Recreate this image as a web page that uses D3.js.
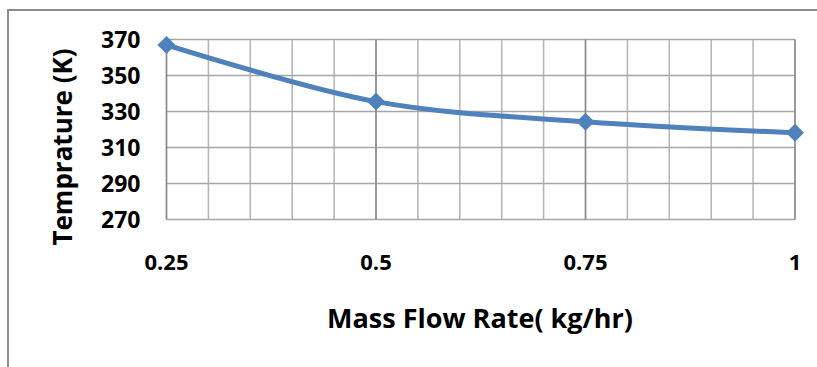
<!DOCTYPE html>
<html lang="en">
<head>
	<meta charset="UTF-8">
	<title>temprature chart</title>
	<style>
		* {
			margin: 0;
			padding: 0;
		}
		body {
			background: #fff;
		}
		svg {
			display: block;
			font-family: "Open Sans", sans-serif;
			font-weight: bold;
		}
	</style>
</head>
<body>
	<script src="https://cdn.jsdelivr.net/npm/d3@7"></script>
	<script>
		// data
		var flowRates = [0.25, 0.5, 0.75, 1];
		var temps = [367, 335.5, 324.3, 318.2];
		var xTicks = [0.25, 0.5, 0.75, 1];
		var yTicks = [270, 290, 310, 330, 350, 370];

		var contentWidth = 817, contentHeight = 367;
		// plot area inside the svg
		var padding = {
			top: 39.5,
			bottom: 147.5,
			left: 166.5,
			right: 22
		};
		var width = contentWidth - padding.left - padding.right;
		var height = contentHeight - padding.top - padding.bottom;

		var svg = d3.select('body').append('svg').attr('width', contentWidth).attr('height', contentHeight);

		// outer chart border (only top and left visible)
		svg.append('path')
			.attr('d', 'M8,367V10H817')
			.attr('fill', 'none')
			.attr('stroke', '#8c8c8c')
			.attr('stroke-width', 2);

		var xScale = d3.scaleLinear().domain([0.25, 1]).range([0, width]);
		var yScale = d3.scaleLinear().domain([270, 370]).range([height, 0]);

		var box = svg.append('g').attr('transform', 'translate(' + padding.left + ',' + padding.top + ')');

		// minor vertical gridlines every 0.05
		var minor = d3.range(0, 16).map(function (i) { return 0.25 + i * 0.05; });
		box.append('g')
			.selectAll('line')
			.data(minor)
			.enter()
			.append('line')
			.attr('x1', function (d) { return xScale(d); })
			.attr('x2', function (d) { return xScale(d); })
			.attr('y1', 0)
			.attr('y2', height)
			.attr('stroke', '#b4b4b4')
			.attr('stroke-width', 1.5);

		// horizontal gridlines
		box.append('g')
			.selectAll('line')
			.data(yTicks)
			.enter()
			.append('line')
			.attr('x1', 0)
			.attr('x2', width)
			.attr('y1', function (d) { return yScale(d); })
			.attr('y2', function (d) { return yScale(d); })
			.attr('stroke', '#a6a6a6')
			.attr('stroke-width', 1.5);

		// major vertical gridlines
		box.append('g')
			.selectAll('line')
			.data(xTicks)
			.enter()
			.append('line')
			.attr('x1', function (d) { return xScale(d); })
			.attr('x2', function (d) { return xScale(d); })
			.attr('y1', 0)
			.attr('y2', height)
			.attr('stroke', '#8a8a8a')
			.attr('stroke-width', 1.5);

		// y tick labels
		box.append('g')
			.selectAll('text')
			.data(yTicks)
			.enter()
			.append('text')
			.attr('x', -26)
			.attr('y', function (d) { return yScale(d); })
			.attr('dy', '0.35em')
			.attr('text-anchor', 'end')
			.attr('font-size', 23)
			.attr('fill', '#000')
			.text(function (d) { return d; });

		// x tick labels
		box.append('g')
			.selectAll('text')
			.data(xTicks)
			.enter()
			.append('text')
			.attr('x', function (d) { return xScale(d); })
			.attr('y', height + 50)
			.attr('text-anchor', 'middle')
			.attr('font-size', 22)
			.attr('fill', '#000')
			.text(function (d) { return d; });

		// the line
		var line = d3.line()
			.x(function (d, i) { return xScale(flowRates[i]); })
			.y(function (d) { return yScale(d); })
			.curve(d3.curveCatmullRom.alpha(0.5));

		box.append('path')
			.datum(temps)
			.attr('d', line)
			.attr('fill', 'none')
			.attr('stroke', '#4f81bd')
			.attr('stroke-width', 5);

		// diamond markers
		box.selectAll('path.marker')
			.data(temps)
			.enter()
			.append('path')
			.classed('marker', true)
			.attr('d', 'M0,-9L9,0L0,9L-9,0Z')
			.attr('transform', function (d, i) {
				return 'translate(' + xScale(flowRates[i]) + ',' + yScale(d) + ')';
			})
			.attr('fill', '#4f81bd');

		// axis titles
		svg.append('text')
			.attr('x', 480)
			.attr('y', 328)
			.attr('text-anchor', 'middle')
			.attr('font-size', 27)
			.attr('fill', '#000')
			.text('Mass Flow Rate( kg/hr)');

		svg.append('text')
			.attr('transform', 'translate(72,147) rotate(-90)')
			.attr('text-anchor', 'middle')
			.attr('font-size', 26)
			.attr('fill', '#000')
			.text('Temprature (K)');
	</script>
</body>
</html>
